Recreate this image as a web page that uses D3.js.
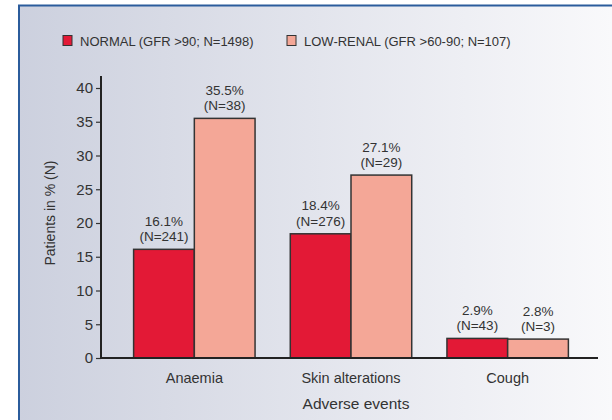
<!DOCTYPE html>
<html>
<head>
<meta charset="utf-8">
<script src="https://cdn.jsdelivr.net/npm/d3@7"></script>
<style>
  body { margin: 0; background: #fff; }
  text { font-family: "Liberation Sans", Arial, sans-serif; fill: #333; }
</style>
</head>
<body>
<div id="chart"></div>
<script>
const categories = ["Anaemia", "Skin alterations", "Cough"];
const seriesNames = ["NORMAL (GFR >90; N=1498)", "LOW-RENAL (GFR >60-90; N=107)"];
const normalPct = [16.1, 18.4, 2.9];
const normalN = [241, 276, 43];
const lowPct = [35.5, 27.1, 2.8];
const lowN = [38, 29, 3];
const yTicks = [0, 5, 10, 15, 20, 25, 30, 35, 40];
const COLORS = ["#e31936", "#f4a797"];

const width = 612, height = 420;

let svg = d3.select("#chart").append("svg")
  .attr("width", width).attr("height", height);

let grad = svg.append("defs").append("linearGradient")
  .attr("id", "bg").attr("x1", "0").attr("x2", "1").attr("y1", "0").attr("y2", "0");
grad.append("stop").attr("offset", "0").attr("stop-color", "#ccd0de");
grad.append("stop").attr("offset", "1").attr("stop-color", "#f9f9fb");

svg.append("rect").attr("x", 18).attr("y", 5).attr("width", width - 18).attr("height", height - 5)
  .attr("fill", "url(#bg)");
svg.append("path").attr("d", `M19,${height} V5.5 H${width}`)
  .attr("fill", "none").attr("stroke", "#2b5c9c").attr("stroke-width", 2);

// scales
let y = d3.scaleLinear().domain([0, 40]).range([358, 88]);
let x0 = d3.scaleBand().domain(categories).range([116, 586]);
let x1 = d3.scaleBand().domain([0, 1]).range([0, x0.bandwidth()]).paddingOuter(0.29);

// y axis
let yAxis = svg.append("g").attr("transform", "translate(101,0)")
  .call(d3.axisLeft(y).tickValues(yTicks).tickSize(5).tickPadding(3));
yAxis.select(".domain").remove();
yAxis.selectAll("line").attr("stroke", "#333").attr("stroke-width", 1.2);
yAxis.selectAll("text").style("font-size", "15px").attr("fill", "#333");
svg.append("line").attr("x1", 101).attr("x2", 101).attr("y1", 76).attr("y2", 359)
  .attr("stroke", "#222").attr("stroke-width", 2);

// bars
const series = [
  { pct: normalPct, n: normalN },
  { pct: lowPct, n: lowN }
];
series.forEach(function (s, si) {
  let g = svg.append("g");
  let cx = (c) => x0(c) + x1(si) + x1.bandwidth() / 2;
  g.selectAll("rect").data(categories).enter().append("rect")
    .attr("x", (c) => x0(c) + x1(si))
    .attr("y", (c, i) => y(s.pct[i]))
    .attr("width", x1.bandwidth())
    .attr("height", (c, i) => y(0) - y(s.pct[i]))
    .attr("fill", COLORS[si])
    .attr("stroke", "#333").attr("stroke-width", 1.5);
  g.selectAll("text.pct").data(categories).enter().append("text")
    .attr("class", "pct")
    .attr("text-anchor", "middle")
    .style("font-size", "13.5px")
    .attr("x", cx)
    .attr("y", (c, i) => y(s.pct[i]) - 23.5)
    .text((c, i) => s.pct[i].toFixed(1) + "%");
  g.selectAll("text.n").data(categories).enter().append("text")
    .attr("class", "n")
    .attr("text-anchor", "middle")
    .style("font-size", "13.5px")
    .attr("x", cx)
    .attr("y", (c, i) => y(s.pct[i]) - 8)
    .text((c, i) => "(N=" + s.n[i] + ")");
});

// x axis
let xAxis = svg.append("g").attr("transform", "translate(0,358)")
  .call(d3.axisBottom(x0).tickSize(0).tickPadding(15));
xAxis.select(".domain").remove();
xAxis.selectAll("text").style("font-size", "14.5px").attr("fill", "#333");
svg.append("line").attr("x1", 100).attr("x2", 598).attr("y1", 358).attr("y2", 358)
  .attr("stroke", "#222").attr("stroke-width", 2);

// axis titles
svg.append("text").attr("x", 356).attr("y", 409).attr("text-anchor", "middle")
  .style("font-size", "15.5px").text("Adverse events");
svg.append("text").attr("transform", "translate(55,213) rotate(-90)").attr("text-anchor", "middle")
  .style("font-size", "14px").text("Patients in % (N)");

// legend
const legendX = [63, 287];
seriesNames.forEach(function (name, i) {
  svg.append("rect").attr("x", legendX[i]).attr("y", 35.5).attr("width", 9).attr("height", 10)
    .attr("fill", COLORS[i]).attr("stroke", "#333").attr("stroke-width", 1);
  svg.append("text").attr("x", legendX[i] + 17).attr("y", 46)
    .style("font-size", "13px").text(name);
});
</script>
</body>
</html>
